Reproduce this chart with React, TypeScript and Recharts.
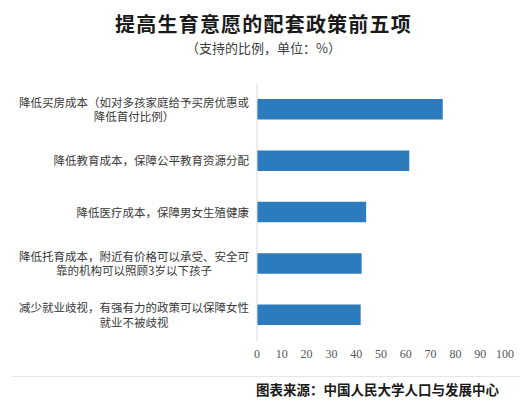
import { BarChart, Bar, XAxis, YAxis } from "recharts";

const categories = [
  "降低买房成本（如对多孩家庭给予买房优惠或\n降低首付比例）",
  "降低教育成本，保障公平教育资源分配",
  "降低医疗成本，保障男女生殖健康",
  "降低托育成本，附近有价格可以承受、安全可\n靠的机构可以照顾3岁以下孩子",
  "减少就业歧视，有强有力的政策可以保障女性\n就业不被歧视",
];
const shares = [74.9, 61.4, 44.0, 42.2, 41.8];
const xTicks = [0, 10, 20, 30, 40, 50, 60, 70, 80, 90, 100];

const data = categories.map((name, i) => ({ name, value: shares[i] }));

const CJK = '"Noto Sans CJK SC", "Noto Sans", sans-serif';
const LABEL_SIZE = 11.5;

const CategoryTick = ({ x, y, payload }: any) => {
  const lines: string[] = String(payload.value).split("\n");
  const right = x;
  const firstWidth = lines[0].length * LABEL_SIZE;
  const gap = 14.5;
  const top = y - ((lines.length - 1) * gap) / 2;
  return (
    <g>
      {lines.map((line, i) => (
        <text
          key={i}
          x={i === 0 ? right : right - firstWidth / 2}
          y={top + i * gap}
          dy="0.36em"
          textAnchor={i === 0 ? "end" : "middle"}
          fill="#3a3a3a"
          fontSize={LABEL_SIZE}
          fontFamily={CJK}
        >
          {line}
        </text>
      ))}
    </g>
  );
};

const ValueTick = ({ x, y, payload }: any) => (
  <text
    x={x}
    y={y}
    dy="0.71em"
    textAnchor="middle"
    fill="#555"
    fontSize={12}
    fontFamily='"Liberation Serif", serif'
  >
    {payload.value}
  </text>
);

export default function App() {
  return (
    <div
      style={{
        position: "absolute",
        left: 0,
        top: 0,
        width: 520,
        height: 401,
        background: "#fff",
        fontFamily: CJK,
      }}
    >
      <div
        style={{
          position: "absolute",
          left: 0,
          width: 527,
          top: 12,
          textAlign: "center",
          fontSize: 20,
          fontWeight: 700,
          letterSpacing: 1.2,
          color: "#1a1a1a",
          lineHeight: "24px",
        }}
      >
        提高生育意愿的配套政策前五项
      </div>
      <div
        style={{
          position: "absolute",
          left: 0,
          width: 527,
          top: 39,
          textAlign: "center",
          fontSize: 13,
          color: "#404040",
          lineHeight: "17px",
        }}
      >
        （支持的比例，单位：%）
      </div>
      <div style={{ position: "absolute", left: 0, top: 0 }}>
        <BarChart
          width={520}
          height={370}
          layout="vertical"
          data={data}
          margin={{ top: 84, right: 15, bottom: 0, left: 0 }}
          barSize={20.5}
        >
          <XAxis
            type="number"
            domain={[0, 100]}
            ticks={xTicks}
            axisLine={false}
            tickLine={false}
            tick={<ValueTick />}
            height={29}
            interval={0}
          />
          <YAxis
            type="category"
            dataKey="name"
            width={257}
            axisLine={{ stroke: "#d9d9d9" }}
            tickLine={false}
            tick={<CategoryTick />}
            interval={0}
          />
          <Bar dataKey="value" fill="#2b7bbd" isAnimationActive={false} />
        </BarChart>
      </div>
      <div
        style={{
          position: "absolute",
          left: 12,
          right: 0,
          top: 376,
          height: 1,
          background: "#e6e6e6",
        }}
      />
      <div
        style={{
          position: "absolute",
          left: 256,
          top: 381,
          fontSize: 13.5,
          fontWeight: 700,
          color: "#1a1a1a",
          lineHeight: "16px",
          whiteSpace: "nowrap",
        }}
      >
        图表来源：中国人民大学人口与发展中心
      </div>
    </div>
  );
}
